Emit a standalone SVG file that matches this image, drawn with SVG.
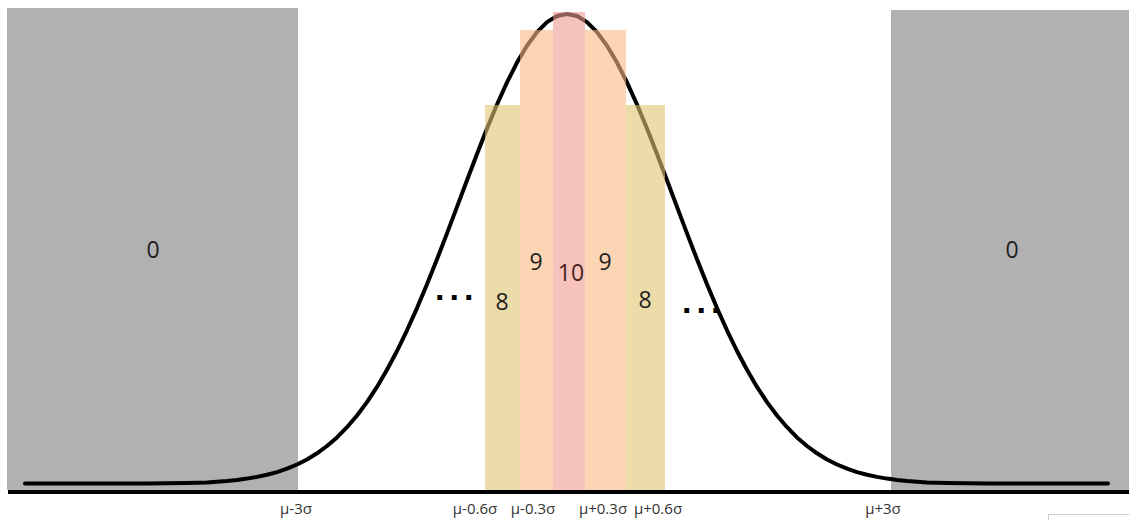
<svg xmlns="http://www.w3.org/2000/svg" width="1129" height="520" viewBox="0 0 1129 520">
<style>
.gray{fill:#b1b1b1}
.num{font-family:"Open Sans","Liberation Sans",sans-serif;font-size:23px;fill:#1e1e1e;text-anchor:middle}
.lbl{font-family:"Open Sans","Liberation Sans",sans-serif;font-size:15px;fill:#333;text-anchor:middle}
.dots{font-family:"Liberation Sans",sans-serif;font-size:34px;font-weight:bold;fill:#000;letter-spacing:5px}
.yb{fill:#dfc571;opacity:0.6}
.pb{fill:#fab984;opacity:0.6}
.rb{fill:#ee998f;opacity:0.6}
</style>
<rect width="1129" height="520" fill="#fff"/>
<g id="tail-left"><rect class="gray" x="7" y="8" width="291" height="482"/></g>
<g id="tail-right"><rect class="gray" x="891" y="10" width="238" height="480"/></g>
<g id="curve">
<polyline fill="none" stroke="#000" stroke-width="4" stroke-linejoin="round" stroke-linecap="round" points="25,483.5 117,483.5 147,483.4 187,483 207,482.4 227,481 237,480 247,478.6 257,476.9 267,474.8 277,472.1 287,468.7 297,464.5 307,459.5 317,453.3 327,446 337,437.4 347,427.2 357,415.5 367,402.1 377,386.9 387,369.8 397,351 407,330.3 417,308.1 427,284.3 437,259.3 447,233.4 457,206.9 467,180.3 477,154 487,128.6 497,104.5 507,82.4 517,62.6 527,45.7 537,32.1 547,22.1 557,16.05 567,14 577,16.05 587,22.1 597,32.1 607,45.7 617,62.6 627,82.4 637,104.5 647,128.6 657,154 667,180.3 677,206.9 687,233.4 697,259.3 707,284.3 717,308.1 727,330.3 737,351 747,369.8 757,386.9 767,402.1 777,415.5 787,427.2 797,437.4 807,446 817,453.3 827,459.5 837,464.5 847,468.7 857,472.1 867,474.8 877,476.9 887,478.6 897,480 907,481 927,482.4 947,483 987,483.4 1017,483.5 1108,483.5"/>
</g>
<g id="bars">
<rect id="bar-8-left" class="yb" x="485" y="105" width="35" height="389"/>
<rect id="bar-9-left" class="pb" x="520" y="30" width="33" height="464"/>
<rect id="bar-10" class="rb" x="553" y="12" width="32" height="482"/>
<rect id="bar-9-right" class="pb" x="585" y="30" width="41" height="464"/>
<rect id="bar-8-right" class="yb" x="626" y="105" width="39" height="389"/>
</g>
<g id="axis"><line x1="8" y1="492" x2="1129" y2="492" stroke="#000" stroke-width="4"/></g>
<g id="values">
<text class="num" x="153" y="258">0</text>
<text class="num" x="1012" y="258">0</text>
<text class="num" x="536" y="270">9</text>
<text class="num" x="571" y="281" style="fill:#4a1e1e">10</text>
<text class="num" x="605" y="270">9</text>
<text class="num" x="502" y="310">8</text>
<text class="num" x="645" y="308">8</text>
<text class="dots" x="435" y="300">...</text>
<text class="dots" x="682" y="313">...</text>
</g>
<g id="labels">
<text class="lbl" x="296" y="514">μ-3σ</text>
<text class="lbl" x="475" y="514">μ-0.6σ</text>
<text class="lbl" x="533" y="514">μ-0.3σ</text>
<text class="lbl" x="603" y="514">μ+0.3σ</text>
<text class="lbl" x="658" y="514">μ+0.6σ</text>
<text class="lbl" x="883" y="514">μ+3σ</text>
</g>
<rect x="1048.5" y="514.5" width="85" height="10" fill="#fff" stroke="#ccc" stroke-width="1"/>
</svg>
